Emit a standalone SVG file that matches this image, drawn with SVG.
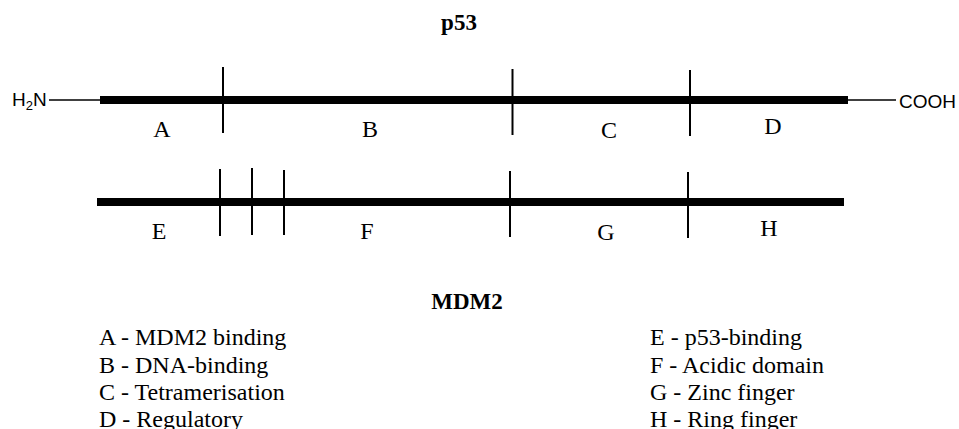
<svg xmlns="http://www.w3.org/2000/svg" width="959" height="429" viewBox="0 0 959 429">
<style>
.title{font-family:"Liberation Serif","Times New Roman",serif;font-weight:bold;font-size:23px;fill:#000;text-anchor:middle}
.seg{font-family:"Liberation Serif","Times New Roman",serif;font-size:24px;fill:#000;text-anchor:middle}
.leg{font-family:"Liberation Serif","Times New Roman",serif;font-size:24px;fill:#000}
.chem{font-family:"Liberation Sans",Arial,sans-serif;font-size:19px;fill:#000}
.bar{fill:#000}
.tick{stroke:#000;stroke-width:2;fill:none}
.thin{stroke:#000;stroke-width:1.6;fill:none}
</style>
<rect width="959" height="429" fill="#fff"/>

<g id="p53">
  <text class="title" x="459" y="30">p53</text>
  <text class="chem" x="12" y="106">H<tspan font-size="13" dy="4">2</tspan><tspan dy="-4">N</tspan></text>
  <line class="thin" x1="49" y1="100" x2="100" y2="100"/>
  <rect class="bar" x="100" y="96" width="748" height="8"/>
  <line class="thin" x1="848" y1="100" x2="896" y2="100"/>
  <text class="chem" x="899" y="108">COOH</text>
  <line class="tick" x1="223" y1="67" x2="223" y2="133"/>
  <line class="tick" x1="512.5" y1="69" x2="512.5" y2="135"/>
  <line class="tick" x1="690" y1="70" x2="690" y2="136"/>
  <text class="seg" x="162" y="137">A</text>
  <text class="seg" x="370" y="137">B</text>
  <text class="seg" x="609" y="138">C</text>
  <text class="seg" x="773" y="134">D</text>
</g>

<g id="mdm2">
  <rect class="bar" x="97" y="198" width="747" height="8"/>
  <line class="tick" x1="220" y1="169" x2="220" y2="236"/>
  <line class="tick" x1="252" y1="168" x2="252" y2="235"/>
  <line class="tick" x1="284" y1="170" x2="284" y2="235"/>
  <line class="tick" x1="510" y1="171" x2="510" y2="237"/>
  <line class="tick" x1="688" y1="172" x2="688" y2="238"/>
  <text class="seg" x="159" y="239">E</text>
  <text class="seg" x="367" y="239">F</text>
  <text class="seg" x="606" y="240">G</text>
  <text class="seg" x="769" y="236">H</text>
  <text class="title" x="467" y="309">MDM2</text>
</g>

<g id="legend-p53">
  <text class="leg" x="99" y="345">A - MDM2 binding</text>
  <text class="leg" x="99" y="372.5">B - DNA-binding</text>
  <text class="leg" x="99" y="400">C - Tetramerisation</text>
  <text class="leg" x="99" y="427">D - Regulatory</text>
</g>

<g id="legend-mdm2">
  <text class="leg" x="650" y="345">E - p53-binding</text>
  <text class="leg" x="650" y="372.5">F - Acidic domain</text>
  <text class="leg" x="650" y="400">G - Zinc finger</text>
  <text class="leg" x="650" y="427">H - Ring finger</text>
</g>

<g id="connectors"></g>
</svg>
